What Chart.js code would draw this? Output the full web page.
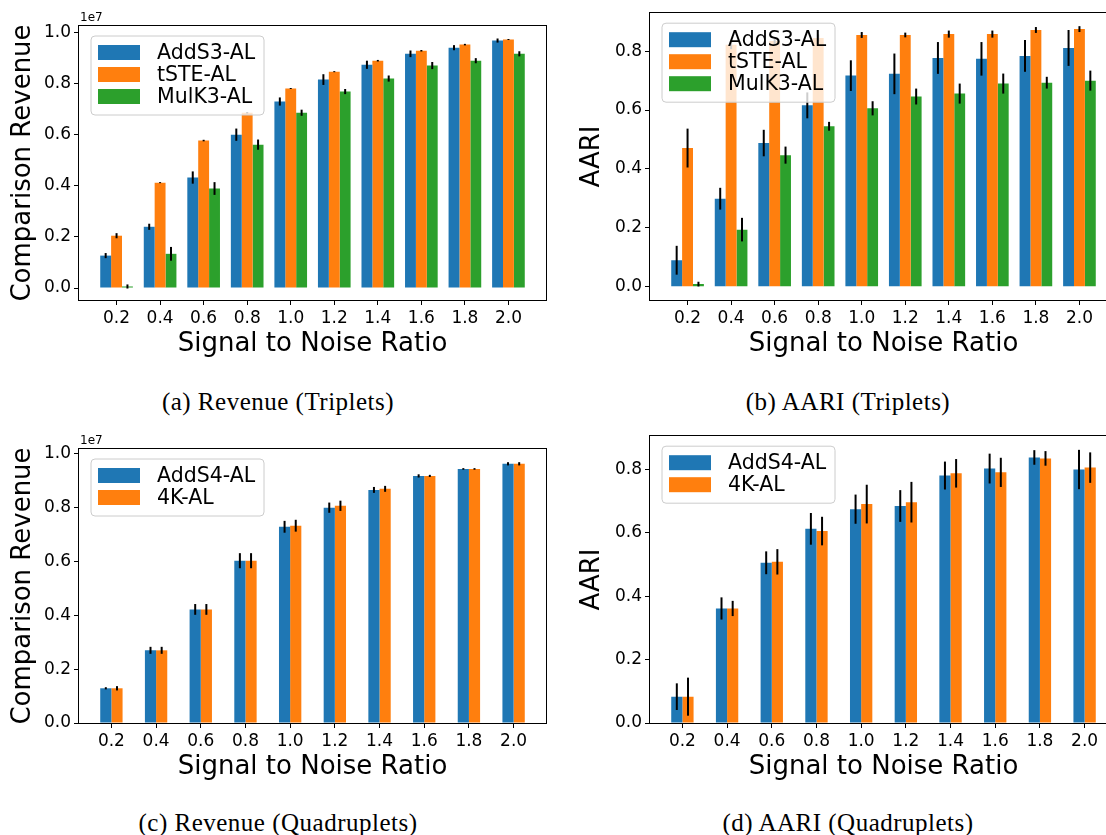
<!DOCTYPE html>
<html>
<head>
<meta charset="utf-8">
<script src="https://cdn.jsdelivr.net/npm/chart.js@4.4.1/dist/chart.umd.min.js"></script>
<style>
  html, body { margin: 0; padding: 0; background: #fff; overflow: hidden; }
  body { width: 1106px; height: 835px; position: relative; }
  canvas { position: absolute; }
  .cap { position: absolute; width: 400px; text-align: center; font-family: "Liberation Serif", "DejaVu Serif", serif; font-size: 25px; letter-spacing: 0.5px; line-height: 26px; color: #000; white-space: nowrap; }
</style>
</head>
<body>
<canvas id="chartA" width="553" height="370" style="left:0px;top:0px"></canvas>
<canvas id="chartB" width="580" height="370" style="left:553px;top:0px"></canvas>
<canvas id="chartC" width="553" height="370" style="left:0px;top:423px"></canvas>
<canvas id="chartD" width="580" height="370" style="left:553px;top:423px"></canvas>
<div class="cap" style="left:78px;top:389px">(a) Revenue (Triplets)</div>
<div class="cap" style="left:648px;top:389px">(b) AARI (Triplets)</div>
<div class="cap" style="left:78px;top:810px">(c) Revenue (Quadruplets)</div>
<div class="cap" style="left:648px;top:810px">(d) AARI (Quadruplets)</div>
<script>
// x categories (signal to noise ratio) and tick values
const snr = [0.2, 0.4, 0.6, 0.8, 1.0, 1.2, 1.4, 1.6, 1.8, 2.0];
const revenueTicks = [0.0, 0.2, 0.4, 0.6, 0.8, 1.0];
const aariTicks = [0.0, 0.2, 0.4, 0.6, 0.8];

// (a) Revenue, triplets (units of 1e7)
const revTripAddS3 = [0.127, 0.240, 0.433, 0.601, 0.731, 0.817, 0.875, 0.918, 0.942, 0.970];
const revTripAddS3Err = [0.010, 0.012, 0.024, 0.024, 0.016, 0.021, 0.016, 0.013, 0.010, 0.008];
const revTripTSTE = [0.205, 0.413, 0.578, 0.687, 0.782, 0.848, 0.891, 0.930, 0.954, 0.974];
const revTripTSTEErr = [0.010, 0.002, 0.003, 0.003, 0.002, 0.002, 0.003, 0.003, 0.003, 0.002];
const revTripMulK3 = [0.006, 0.134, 0.390, 0.562, 0.687, 0.770, 0.821, 0.872, 0.891, 0.918];
const revTripMulK3Err = [0.008, 0.027, 0.025, 0.020, 0.012, 0.010, 0.012, 0.014, 0.010, 0.010];

// (b) AARI, triplets
const aariTripAddS3 = [0.090, 0.299, 0.488, 0.616, 0.717, 0.723, 0.777, 0.774, 0.784, 0.811];
const aariTripAddS3Err = [0.049, 0.037, 0.045, 0.044, 0.052, 0.069, 0.054, 0.057, 0.054, 0.061];
const aariTripTSTE = [0.471, 0.822, 0.835, 0.845, 0.855, 0.855, 0.858, 0.858, 0.872, 0.875];
const aariTripTSTEErr = [0.066, 0.015, 0.012, 0.012, 0.010, 0.008, 0.012, 0.012, 0.010, 0.010];
const aariTripMulK3 = [0.009, 0.194, 0.447, 0.545, 0.606, 0.646, 0.656, 0.690, 0.693, 0.700];
const aariTripMulK3Err = [0.008, 0.040, 0.029, 0.015, 0.024, 0.027, 0.034, 0.034, 0.020, 0.034];

// (c) Revenue, quadruplets (units of 1e7)
const revQuadAddS4 = [0.129, 0.270, 0.422, 0.603, 0.729, 0.800, 0.866, 0.918, 0.944, 0.963];
const revQuadAddS4Err = [0.004, 0.013, 0.020, 0.028, 0.022, 0.019, 0.011, 0.006, 0.003, 0.006];
const revQuad4K = [0.129, 0.270, 0.422, 0.603, 0.733, 0.807, 0.870, 0.918, 0.944, 0.963];
const revQuad4KErr = [0.008, 0.013, 0.020, 0.028, 0.022, 0.019, 0.011, 0.004, 0.003, 0.006];

// (d) AARI, quadruplets
const aariQuadAddS4 = [0.083, 0.361, 0.505, 0.612, 0.674, 0.684, 0.780, 0.802, 0.837, 0.799];
const aariQuadAddS4Err = [0.042, 0.035, 0.036, 0.050, 0.046, 0.050, 0.044, 0.047, 0.023, 0.062];
const aariQuad4K = [0.083, 0.361, 0.508, 0.605, 0.690, 0.696, 0.787, 0.790, 0.834, 0.805];
const aariQuad4KErr = [0.060, 0.024, 0.040, 0.045, 0.061, 0.064, 0.045, 0.046, 0.023, 0.048];

const BLUE = '#1f77b4', ORANGE = '#ff7f0e', GREEN = '#2ca02c';

Chart.defaults.font.family = "'DejaVu Sans', sans-serif";
Chart.defaults.color = '#000';

// vertical error bars, drawn on top of every bar
const errorBarPlugin = {
    id: 'errorBars',
    afterDatasetsDraw(chart) {
        const ctx = chart.ctx;
        const yScale = chart.scales.y;
        ctx.save();
        ctx.strokeStyle = '#000';
        ctx.lineWidth = 2;
        chart.data.datasets.forEach((ds, di) => {
            chart.getDatasetMeta(di).data.forEach((bar, i) => {
                let v = ds.data[i].y, e = ds.errors[i];
                ctx.beginPath();
                ctx.moveTo(bar.x, yScale.getPixelForValue(v - e));
                ctx.lineTo(bar.x, yScale.getPixelForValue(v + e));
                ctx.stroke();
            });
        });
        ctx.restore();
    }
};

// box round the plot, the "1e7" offset text and a matplotlib style legend
const framePlugin = {
    id: 'frameLegend',
    afterDraw(chart, args, opts) {
        const ctx = chart.ctx;
        const a = chart.chartArea;
        ctx.save();
        ctx.strokeStyle = '#000';
        ctx.lineWidth = 1;
        ctx.strokeRect(Math.round(a.left) - 0.5, Math.round(a.top) - 0.5, Math.round(a.right - a.left) + 1, Math.round(a.bottom - a.top) + 1);

        if (opts.offsetText) {
            ctx.fillStyle = '#000';
            ctx.font = "12px 'DejaVu Sans'";
            ctx.textAlign = 'left';
            ctx.textBaseline = 'bottom';
            ctx.fillText(opts.offsetText, a.left + 1, a.top - 2);
        }

        // legend
        let ds = chart.data.datasets;
        let bx = a.left + 12, by = a.top + 10;
        let bw = 173, bh = ds.length * 22 + 13, r = 4;
        ctx.beginPath();
        ctx.moveTo(bx + r, by);
        ctx.arcTo(bx + bw, by, bx + bw, by + bh, r);
        ctx.arcTo(bx + bw, by + bh, bx, by + bh, r);
        ctx.arcTo(bx, by + bh, bx, by, r);
        ctx.arcTo(bx, by, bx + bw, by, r);
        ctx.closePath();
        ctx.fillStyle = 'rgba(255,255,255,0.8)';
        ctx.fill();
        ctx.strokeStyle = '#cccccc';
        ctx.stroke();

        ctx.font = "20.5px 'DejaVu Sans'";
        ctx.textAlign = 'left';
        ctx.textBaseline = 'middle';
        ds.forEach((d, i) => {
            let cy = by + 16.5 + i * 22;
            ctx.fillStyle = d.backgroundColor;
            ctx.fillRect(bx + 7, cy - 7.5, 42, 15);
            ctx.fillStyle = '#000';
            ctx.fillText(d.label, bx + 66, cy + 1);
        });
        ctx.restore();
    }
};

function makeDataset(label, color, values, errors) {
    return {
        label: label,
        data: snr.map((x, i) => ({ x: x, y: values[i] })),
        errors: errors,
        backgroundColor: color,
        borderWidth: 0,
        barPercentage: 1.0
    };
}

function makeChart(id, cfg) {
    let ctx = document.getElementById(id).getContext('2d');
    return new Chart(ctx, {
        type: 'bar',
        data: { datasets: cfg.datasets },
        options: {
            responsive: false,
            animation: false,
            devicePixelRatio: 1,
            datasets: { bar: { categoryPercentage: cfg.groupWidth, barPercentage: 1.0 } },
            layout: { padding: { left: 0, top: cfg.padTop, right: cfg.padRight, bottom: 0 } },
            scales: {
                x: {
                    type: 'linear',
                    min: cfg.xMin, max: cfg.xMax,
                    bounds: 'data',
                    offset: false,
                    afterBuildTicks: s => { s.ticks = snr.map(v => ({ value: v })); },
                    afterFit: s => { s.height = 70; },
                    ticks: { callback: v => v.toFixed(1), font: { size: 17 }, padding: 3, maxRotation: 0, autoSkip: false },
                    grid: { drawOnChartArea: false, tickLength: 5, color: '#000', offset: false },
                    border: { display: false },
                    title: { display: true, text: 'Signal to Noise Ratio', font: { size: 26 }, padding: { top: 0, bottom: 10 } }
                },
                y: {
                    min: cfg.yMin, max: cfg.yMax,
                    afterBuildTicks: s => { s.ticks = cfg.yTicks.map(v => ({ value: v })); },
                    afterFit: s => { s.width = cfg.yWidth; },
                    ticks: { callback: v => v.toFixed(1), font: { size: 17 }, padding: 3 },
                    grid: { drawOnChartArea: false, tickLength: 5, color: '#000' },
                    border: { display: false },
                    title: { display: true, text: cfg.yTitle, font: { size: 26 }, padding: { top: cfg.yTitlePad, bottom: 0 } }
                }
            },
            plugins: {
                legend: { display: false },
                tooltip: { enabled: false },
                frameLegend: { offsetText: cfg.offsetText }
            }
        },
        plugins: [errorBarPlugin, framePlugin]
    });
}

// three bars per group: x range as matplotlib leaves it
makeChart('chartA', {
    datasets: [
        makeDataset('AddS3-AL', BLUE, revTripAddS3, revTripAddS3Err),
        makeDataset('tSTE-AL', ORANGE, revTripTSTE, revTripTSTEErr),
        makeDataset('MulK3-AL', GREEN, revTripMulK3, revTripMulK3Err)
    ],
    groupWidth: 0.75, xMin: 0.0275, xMax: 2.1725,
    yMin: -0.047, yMax: 1.027, yTicks: revenueTicks,
    yWidth: 79, padTop: 26, padRight: 7,
    yTitle: 'Comparison Revenue', yTitlePad: 8, offsetText: '1e7'
});

makeChart('chartB', {
    datasets: [
        makeDataset('AddS3-AL', BLUE, aariTripAddS3, aariTripAddS3Err),
        makeDataset('tSTE-AL', ORANGE, aariTripTSTE, aariTripTSTEErr),
        makeDataset('MulK3-AL', GREEN, aariTripMulK3, aariTripMulK3Err)
    ],
    groupWidth: 0.75, xMin: 0.0275, xMax: 2.1725,
    yMin: -0.045, yMax: 0.929, yTicks: aariTicks,
    yWidth: 97, padTop: 11, padRight: 16,
    yTitle: 'AARI', yTitlePad: 24, offsetText: ''
});

// two bars per group
makeChart('chartC', {
    datasets: [
        makeDataset('AddS4-AL', BLUE, revQuadAddS4, revQuadAddS4Err),
        makeDataset('4K-AL', ORANGE, revQuad4K, revQuad4KErr)
    ],
    groupWidth: 0.5, xMin: 0.055, xMax: 2.145,
    yMin: 0, yMax: 1.018, yTicks: revenueTicks,
    yWidth: 79, padTop: 26, padRight: 7,
    yTitle: 'Comparison Revenue', yTitlePad: 8, offsetText: '1e7'
});

makeChart('chartD', {
    datasets: [
        makeDataset('AddS4-AL', BLUE, aariQuadAddS4, aariQuadAddS4Err),
        makeDataset('4K-AL', ORANGE, aariQuad4K, aariQuad4KErr)
    ],
    groupWidth: 0.5, xMin: 0.055, xMax: 2.145,
    yMin: 0, yMax: 0.904, yTicks: aariTicks,
    yWidth: 97, padTop: 11, padRight: 16,
    yTitle: 'AARI', yTitlePad: 24, offsetText: ''
});
</script>
</body>
</html>
